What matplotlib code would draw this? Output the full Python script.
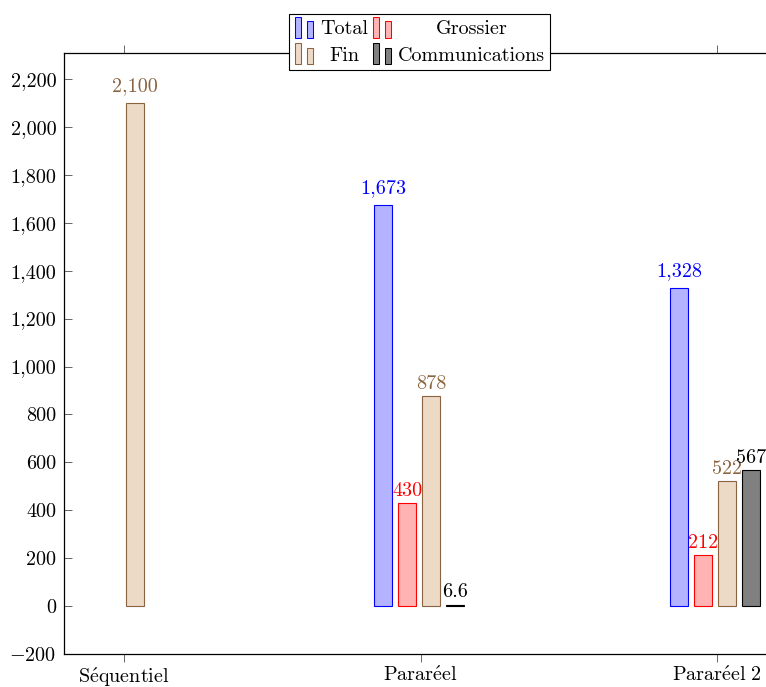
import numpy as np
import matplotlib
matplotlib.use('Agg')
import matplotlib.pyplot as plt
from matplotlib.patches import Rectangle
from matplotlib.legend_handler import HandlerBase
from matplotlib.ticker import FuncFormatter

plt.rcParams['font.family'] = ['cmr10', 'DejaVu Serif']
plt.rcParams['mathtext.fontset'] = 'cm'
plt.rcParams['axes.unicode_minus'] = False

categories = ['Séquentiel', 'Pararéel', 'Pararéel 2']
series_names = ['Total', 'Grossier', 'Fin', 'Communications']
total = [None, 1673, 1328]
grossier = [None, 430, 212]
fin = [2100, 878, 522]
communications = [None, 6.6, 567]
yticks = list(range(-200, 2201, 200))

faces = ['#b3b3ff', '#ffb3b3', '#ecd9c6', '#808080']
edges = ['#0000ff', '#ff0000', '#8a6440', '#000000']
label_colors = ['#0000ff', '#ff0000', '#8a6440', '#000000']

FS = 14.5


def tex_label(s):  # cmr10 has no accented glyphs, go through mathtext
    s = s.replace('é', r'\acute{e}').replace(' ', r'\ ')
    return r'$\mathrm{' + s + '}$'


class TwoBars(HandlerBase):  # pgfplots-style ybar legend image
    def create_artists(self, legend, orig, xd, yd, width, height, fontsize, trans):
        fc = orig.get_facecolor()
        ec = orig.get_edgecolor()
        w = width * 0.3
        r1 = Rectangle((-xd + width * 0.05, -yd - 2), w, height + 4, facecolor=fc,
                       edgecolor=ec, lw=0.75, transform=trans)
        r2 = Rectangle((-xd + width * 0.65, -yd - 2), w, height * 0.8 + 3, facecolor=fc,
                       edgecolor=ec, lw=0.75, transform=trans)
        return [r1, r2]


fig = plt.figure(figsize=(7.66, 6.87), dpi=100)
ax = fig.add_axes([64 / 766, 33 / 687, 702 / 766, 601 / 687])

x = np.arange(len(categories))
bw = 0.061
step = 0.081
shift = -1.5 / 296
offsets = [-1.5, -0.5, 0.5, 1.5]
handles = []
for k, vals in enumerate([total, grossier, fin, communications]):
    xs = [x[i] + offsets[k] * step + shift for i in range(len(vals)) if vals[i] is not None]
    vs = [v for v in vals if v is not None]
    bars = ax.bar(xs, vs, width=bw, facecolor=faces[k], edgecolor=edges[k],
                  linewidth=0.8, label=series_names[k])
    handles.append(bars.patches[0])
    for xi, v in zip(xs, vs):
        txt = f'{v:,}'
        # node sits on its baseline + depth, so labels with a comma ride higher
        dy = 8.5 if ',' in txt else 5.2
        ax.annotate(txt, (xi, v), xytext=(0, dy), textcoords='offset points',
                    ha='center', va='baseline', color=label_colors[k], fontsize=FS)

ax.set_xlim(-60 / 296, 2 + 49 / 296)
ax.set_ylim(-200, 2309)
ax.set_xticks(x)
ax.set_xticklabels([tex_label(c) for c in categories], fontsize=FS)
ax.set_yticks(yticks)


def fmt(v, pos):
    if v < 0:
        return '$-$' + f'{int(abs(v)):,}'
    return f'{int(v):,}'


ax.yaxis.set_major_formatter(FuncFormatter(fmt))
ax.tick_params(axis='y', direction='in', length=5.5, width=0.6, color='0.3',
               labelsize=FS, pad=5.5, right=False)
ax.tick_params(axis='x', direction='out', length=5.5, width=0.6, color='0.3',
               pad=3, top=True)
for s in ax.spines.values():
    s.set_linewidth(0.9)
ax.spines['right'].set_visible(False)

order = [0, 2, 1, 3]
leg = ax.legend([handles[i] for i in order], [series_names[i] for i in order],
                handler_map={h: TwoBars() for h in handles}, ncol=2,
                loc='center', fontsize=FS, frameon=True, fancybox=False,
                edgecolor='black', framealpha=1, handlelength=1.0, handleheight=0.8,
                handletextpad=0.3, columnspacing=0.2, labelspacing=0.38,
                borderpad=0.25, borderaxespad=0)
leg.get_frame().set_linewidth(0.8)
leg.set_bbox_to_anchor((419.5 / 766, 645 / 687), transform=fig.transFigure)

# centre the legend texts inside their column, like pgfplots does
fig.canvas.draw()
r = fig.canvas.get_renderer()
texts = leg.get_texts()  # Total, Fin, Grossier, Communications
for a, b in [(0, 1), (2, 3)]:
    wa = texts[a].get_window_extent(r).width
    wb = texts[b].get_window_extent(r).width
    wide, narrow = (a, b) if wa >= wb else (b, a)
    diff = abs(wa - wb) / 2
    texts[narrow].set_x(texts[narrow].get_position()[0] + diff)

fig.savefig('out.png', dpi=100)
